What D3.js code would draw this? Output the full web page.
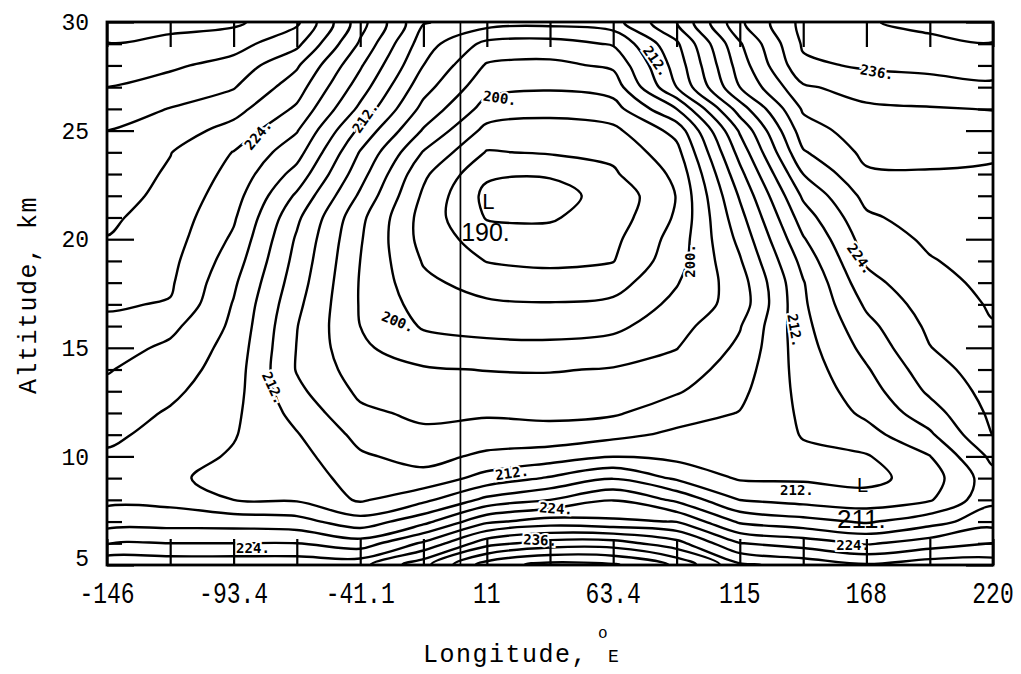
<!DOCTYPE html>
<html><head><meta charset="utf-8">
<script src="https://cdn.jsdelivr.net/npm/d3@7"></script>
<style>
html,body{margin:0;padding:0;background:#fff;}
svg{display:block;}
</style></head>
<body>
<svg id="chart" width="1021" height="674"></svg>
<script>
// ---------------- DATA ----------------
// grid columns (longitude, deg E) and rows (altitude, km)
const longitudes = [-146, -119.9, -93.7, -67.6, -41.4, -15.3, 10.9, 37.0, 63.1, 89.3, 115.4, 141.6, 167.7, 193.9, 220];
const altitudes = [5,6,7,8,9,10,11,12,13,14,15,16,17,18,19,20,21,22,23,24,25,26,27,28,29,30];
const xTickLabels = ["-146","-93.4","-41.1","11","63.4","115","168","220"];
const yTickLabels = [5,10,15,20,25,30];
const levels = [191,194,197,200,203,206,209,212,215,218,221,224,227,230,233,236,239,242,245];

// temperature (K), one row per altitude, west -> east
const t05 = [229.5,229,229,229,229,235,243.5,246,245.4,241.5,233.5,232,230.3,231.7,231.5];
const t06 = [223.7,224,224,224,222.3,227.5,234.8,237.3,237.4,234.1,227.1,225.6,223.6,225.4,227.05];
const t07 = [219.7,219.7,219.6,219.1,216.2,220.0,226.4,228.3,227.5,226.9,220.5,219.0,217.6,219.8,222.8];
const t08 = [217.3,217.1,215,214.7,211.6,214.25,218.8,221,223.9,220.4,214.95,213.95,213.3,214.7,220.3];
const t09 = [216.5,215.5,214,213.9,210.5,210.0,213.1,215.3,217.8,214.5,211.65,211.6,211.0,213.5,219.9];
const t10 = [217.6,216.2,214.7,213.1,209.4,208.0,209.6,210.5,211.9,211.2,210.8,211.5,211.75,214.9,221.8];
const t11 = [218.6,217.0,215.2,212.2,208.1,206.6,207.4,207.2,208.2,209.6,209.9,212.15,213.9,217.5,224.1];
const t12 = [219.4,217.7,215.6,211.0,206.6,205.4,205.6,205.3,205.6,207.7,209.1,212.5,215.6,219.7,224.7];
const t13 = [220.3,218.6,216.1,209.7,205.4,204.25,204.3,204.2,204.4,205.7,208.3,212.9,216.65,221.5,225.2];
const t14 = [221.2,219.5,216.5,208.8,204.5,203.3,202.9,202.8,203.2,204.3,207.5,213.3,217.7,222.7,225.8];
const t15 = [222.3,220.4,216.9,208.9,203.5,201.3,200.8,200.7,201.2,202.9,206.6,213.7,218.9,223.9,226.3];
const t16 = [223.4,221.8,217.4,209.1,203.0,199.7,199.0,198.8,199.3,201.8,205.8,214.1,220.1,224.6,226.85];
const t17 = [224.3,223.8,217.8,209.7,202.8,198.7,197.5,197.2,197.7,200.75,204.3,214.5,221.5,225.4,227.3];
const t18 = [225.2,224.4,218.5,210.4,202.8,197.7,195.7,195.2,195.7,199.8,204.6,214.8,223.05,226.1,227.7];
const t19 = [226.1,224.8,219.5,211.0,203.0,196.75,193.9,193.4,193.9,198.8,205.7,216.0,224.4,226.8,228.1];
const t20 = [226.9,225.3,220.5,211.6,203.3,195.9,192.5,192.0,193.3,198.2,206.8,217.7,225.4,227.5,228.5];
const t21 = [227.5,225.7,221.4,212.6,203.8,195.8,190.8,190.7,192.4,197.4,208.0,219.5,226.5,228.3,228.9];
const t22 = [228.2,226.2,222.25,214.5,205.5,196.5,190.2,190.2,191.8,197.1,209.35,221.5,227.9,229.0,229.3];
const t23 = [228.8,226.6,223.1,216.9,207.2,197.6,191.5,191.2,193.6,197.65,211.1,224,229.6,229.8,229.7];
const t24 = [229.4,227.1,223.9,219.2,208.8,199.8,193.8,194.3,194.7,199.0,213.1,226.7,230.7,230.7,230.3];
const t25 = [230,228.5,225.9,221.2,211.3,202.7,196.1,195.9,196.3,201,215.4,228.6,231.6,231.8,231.7];
const t26 = [231.5,229.9,228.1,223.5,214.3,205.1,198.8,197.8,198.8,206,219.5,230.4,232.5,232.8,233.1];
const t27 = [233,231.7,230.2,225.4,216.5,207.1,201,200.4,201.3,212,224,232.6,234.25,234.8,235.4];
const t28 = [234.4,233.5,231.9,227.4,218.4,209,202.7,202.3,203.5,213.25,225.4,235.4,236.4,236.8,237.3];
const t29 = [235.9,235.2,234.2,230.8,220.6,210.4,205.2,204.8,206.3,214.5,226.7,236.4,237.6,238.4,238.9];
const t30 = [237.5,237,236.6,233.6,222.2,212.2,210.5,210,210.8,217.9,229.4,236.9,238.8,239.7,240.3];
const temperature = [t05,t06,t07,t08,t09,t10,t11,t12,t13,t14,t15,t16,t17,t18,t19,t20,t21,t22,t23,t24,t25,t26,t27,t28,t29,t30];

// contour labels (text, lon, alt)
const labelText = ["224.","212.","200.","212.","236.","200.","224.","212.","200.","212.","212.","224.","236.","212.","224.","224."];
const labelLon  = [-83.6,-39.4,16.3,80.8,172.1,94.8,165.1,138.2,-25.8,-77.4,21.3,39.5,32.9,139.0,-85.7,162.2];
const labelAlt  = [24.8,25.6,26.5,28.2,27.7,19.0,19.1,15.8,16.2,13.15,9.24,7.6,6.15,8.45,5.8,5.9];
const labelRot  = [-50,-55,8,55,10,-90,55,80,22,65,-8,4,3,0,0,0];

// ---------------- CHART ----------------
const svg = d3.select("#chart");
svg.append("rect").attr("width",1021).attr("height",674).attr("fill","#fff");

const X0 = 107, X1 = 993, Y0 = 22, Y1 = 565;
const x = d3.scaleLinear().domain([longitudes[0], longitudes[longitudes.length-1]]).range([X0, X1]);
const y = d3.scaleLinear().domain([altitudes[0], altitudes[altitudes.length-1]]).range([Y1, Y0]);

svg.append("defs").append("clipPath").attr("id","plotclip")
  .append("rect").attr("x",X0).attr("y",Y0).attr("width",X1-X0).attr("height",Y1-Y0);

// contours
const nx = longitudes.length, ny = altitudes.length;
const values = temperature.flat();
// find where d3 places grid values in contour space
const probe = d3.contours().size([2,1]).thresholds([0.5])([0,1]);
let minx = Infinity;
probe.forEach(c => c.coordinates.forEach(p => p.forEach(r => r.forEach(pt => { if (pt[0] < minx) minx = pt[0]; }))));
const off = minx - 0.5;
const dLon = (longitudes[nx-1]-longitudes[0])/(nx-1);
const dAlt = (altitudes[ny-1]-altitudes[0])/(ny-1);
const lonAt = g => longitudes[0] + (g-off)*dLon;
const altAt = g => altitudes[0] + (g-off)*dAlt;

const contours = d3.contours().size([nx, ny]).thresholds(levels)(values);
const lineGen = d3.line().curve(d3.curveCatmullRomClosed.alpha(0.5));
const cg = svg.append("g").attr("clip-path","url(#plotclip)");
contours.forEach(c => {
  c.coordinates.forEach(poly => poly.forEach(ring => {
    const pts = [];
    ring.slice(0,-1).forEach(([gx,gy]) => {
      const p = [x(lonAt(gx)), y(altAt(gy))];
      const last = pts[pts.length-1];
      if (!last || Math.abs(last[0]-p[0])>0.01 || Math.abs(last[1]-p[1])>0.01) pts.push(p);
    });
    if (pts.length < 3) return;
    cg.append("path").attr("d", lineGen(pts))
      .attr("fill","none").attr("stroke","#000").attr("stroke-width",2.4)
      .attr("stroke-linejoin","round");
  }));
});

// Greenwich meridian
svg.append("line").attr("x1",x(0)).attr("x2",x(0)).attr("y1",Y0).attr("y2",Y1)
  .attr("stroke","#000").attr("stroke-width",1.7);

// contour labels
const lg = svg.append("g").attr("clip-path","url(#plotclip)");
labelText.forEach((t,i) => {
  lg.append("text").text(t)
    .attr("transform",`translate(${x(labelLon[i])},${y(labelAlt[i])}) rotate(${labelRot[i]})`)
    .attr("text-anchor","middle").attr("dominant-baseline","central")
    .attr("font-family","DejaVu Sans Mono, monospace").attr("font-weight","bold")
    .attr("font-size",14).attr("fill","#000")
    .attr("stroke","#fff").attr("stroke-width",4).attr("paint-order","stroke");
});

// extreme markers
svg.append("text").text("L").attr("x",x(9.0)).attr("y",y(21.4))
  .attr("font-family","Liberation Sans, Arial, sans-serif").attr("font-size",22);
svg.append("text").text("190.").attr("x",x(0.3)).attr("y",y(19.9))
  .attr("font-family","Liberation Sans, Arial, sans-serif").attr("font-size",25);
svg.append("text").text("L").attr("x",x(163.8)).attr("y",y(8.35))
  .attr("font-family","Liberation Sans, Arial, sans-serif").attr("font-size",20);
svg.append("text").text("211.").attr("x",x(155.6)).attr("y",y(6.7))
  .attr("font-family","Liberation Sans, Arial, sans-serif").attr("font-size",26);

// axes (ticks inside)
function styleAxis(g){
  g.select(".domain").remove();
  g.selectAll(".tick line").attr("stroke","#000").attr("stroke-width",2.2);
  g.selectAll(".tick text").remove();
}
svg.append("g").attr("transform",`translate(0,${Y1})`)
  .call(d3.axisBottom(x).tickValues(longitudes).tickSizeInner(-26).tickSizeOuter(0)).call(styleAxis);
svg.append("g").attr("transform",`translate(0,${Y0})`)
  .call(d3.axisTop(x).tickValues(longitudes).tickSizeInner(-25).tickSizeOuter(0)).call(styleAxis);
const gl = svg.append("g").attr("transform",`translate(${X0},0)`)
  .call(d3.axisLeft(y).tickValues(altitudes).tickSizeInner(-15).tickSizeOuter(0)).call(styleAxis);
gl.selectAll(".tick").filter(d => d % 5 === 0).select("line").attr("x2",27);
const gr = svg.append("g").attr("transform",`translate(${X1},0)`)
  .call(d3.axisRight(y).tickValues(altitudes).tickSizeInner(-15).tickSizeOuter(0)).call(styleAxis);
gr.selectAll(".tick").filter(d => d % 5 === 0).select("line").attr("x2",-27);

// frame
svg.append("rect").attr("x",X0).attr("y",Y0).attr("width",X1-X0).attr("height",Y1-Y0)
  .attr("fill","none").attr("stroke","#000").attr("stroke-width",2.8);

// tick labels
const labelLons = longitudes.filter((d,i) => i % 2 === 0);
svg.selectAll("text.xl").data(xTickLabels).join("text").attr("class","xl")
  .attr("transform",(d,i) => `translate(${x(labelLons[i])},${603}) scale(0.92,1.15)`)
  .attr("text-anchor","middle")
  .attr("font-family","Liberation Mono, DejaVu Sans Mono, monospace").attr("font-size",25)
  .text(d => d);
svg.selectAll("text.yl").data(yTickLabels).join("text").attr("class","yl")
  .attr("x",89).attr("y",d => d === yTickLabels[0] ? y(d) - 7 : y(d)).attr("dy","0.36em")
  .attr("text-anchor","end")
  .attr("font-family","Liberation Mono, DejaVu Sans Mono, monospace").attr("font-size",23)
  .text(d => d);

// axis titles
svg.append("text").text("Altitude, km")
  .attr("transform","translate(36,295) rotate(-90)")
  .attr("text-anchor","middle")
  .attr("font-family","Liberation Mono, DejaVu Sans Mono, monospace").attr("font-size",25)
  .attr("letter-spacing",1.5);
svg.append("text").text("Longitude,")
  .attr("x",423).attr("y",662)
  .attr("font-family","Liberation Mono, DejaVu Sans Mono, monospace").attr("font-size",25)
  .attr("letter-spacing",1.5);
svg.append("text").text("o")
  .attr("x",598).attr("y",638)
  .attr("font-family","Liberation Mono, DejaVu Sans Mono, monospace").attr("font-size",16);
svg.append("text").text("E")
  .attr("x",608).attr("y",662)
  .attr("font-family","Liberation Mono, DejaVu Sans Mono, monospace").attr("font-size",18);
</script>
</body></html>
